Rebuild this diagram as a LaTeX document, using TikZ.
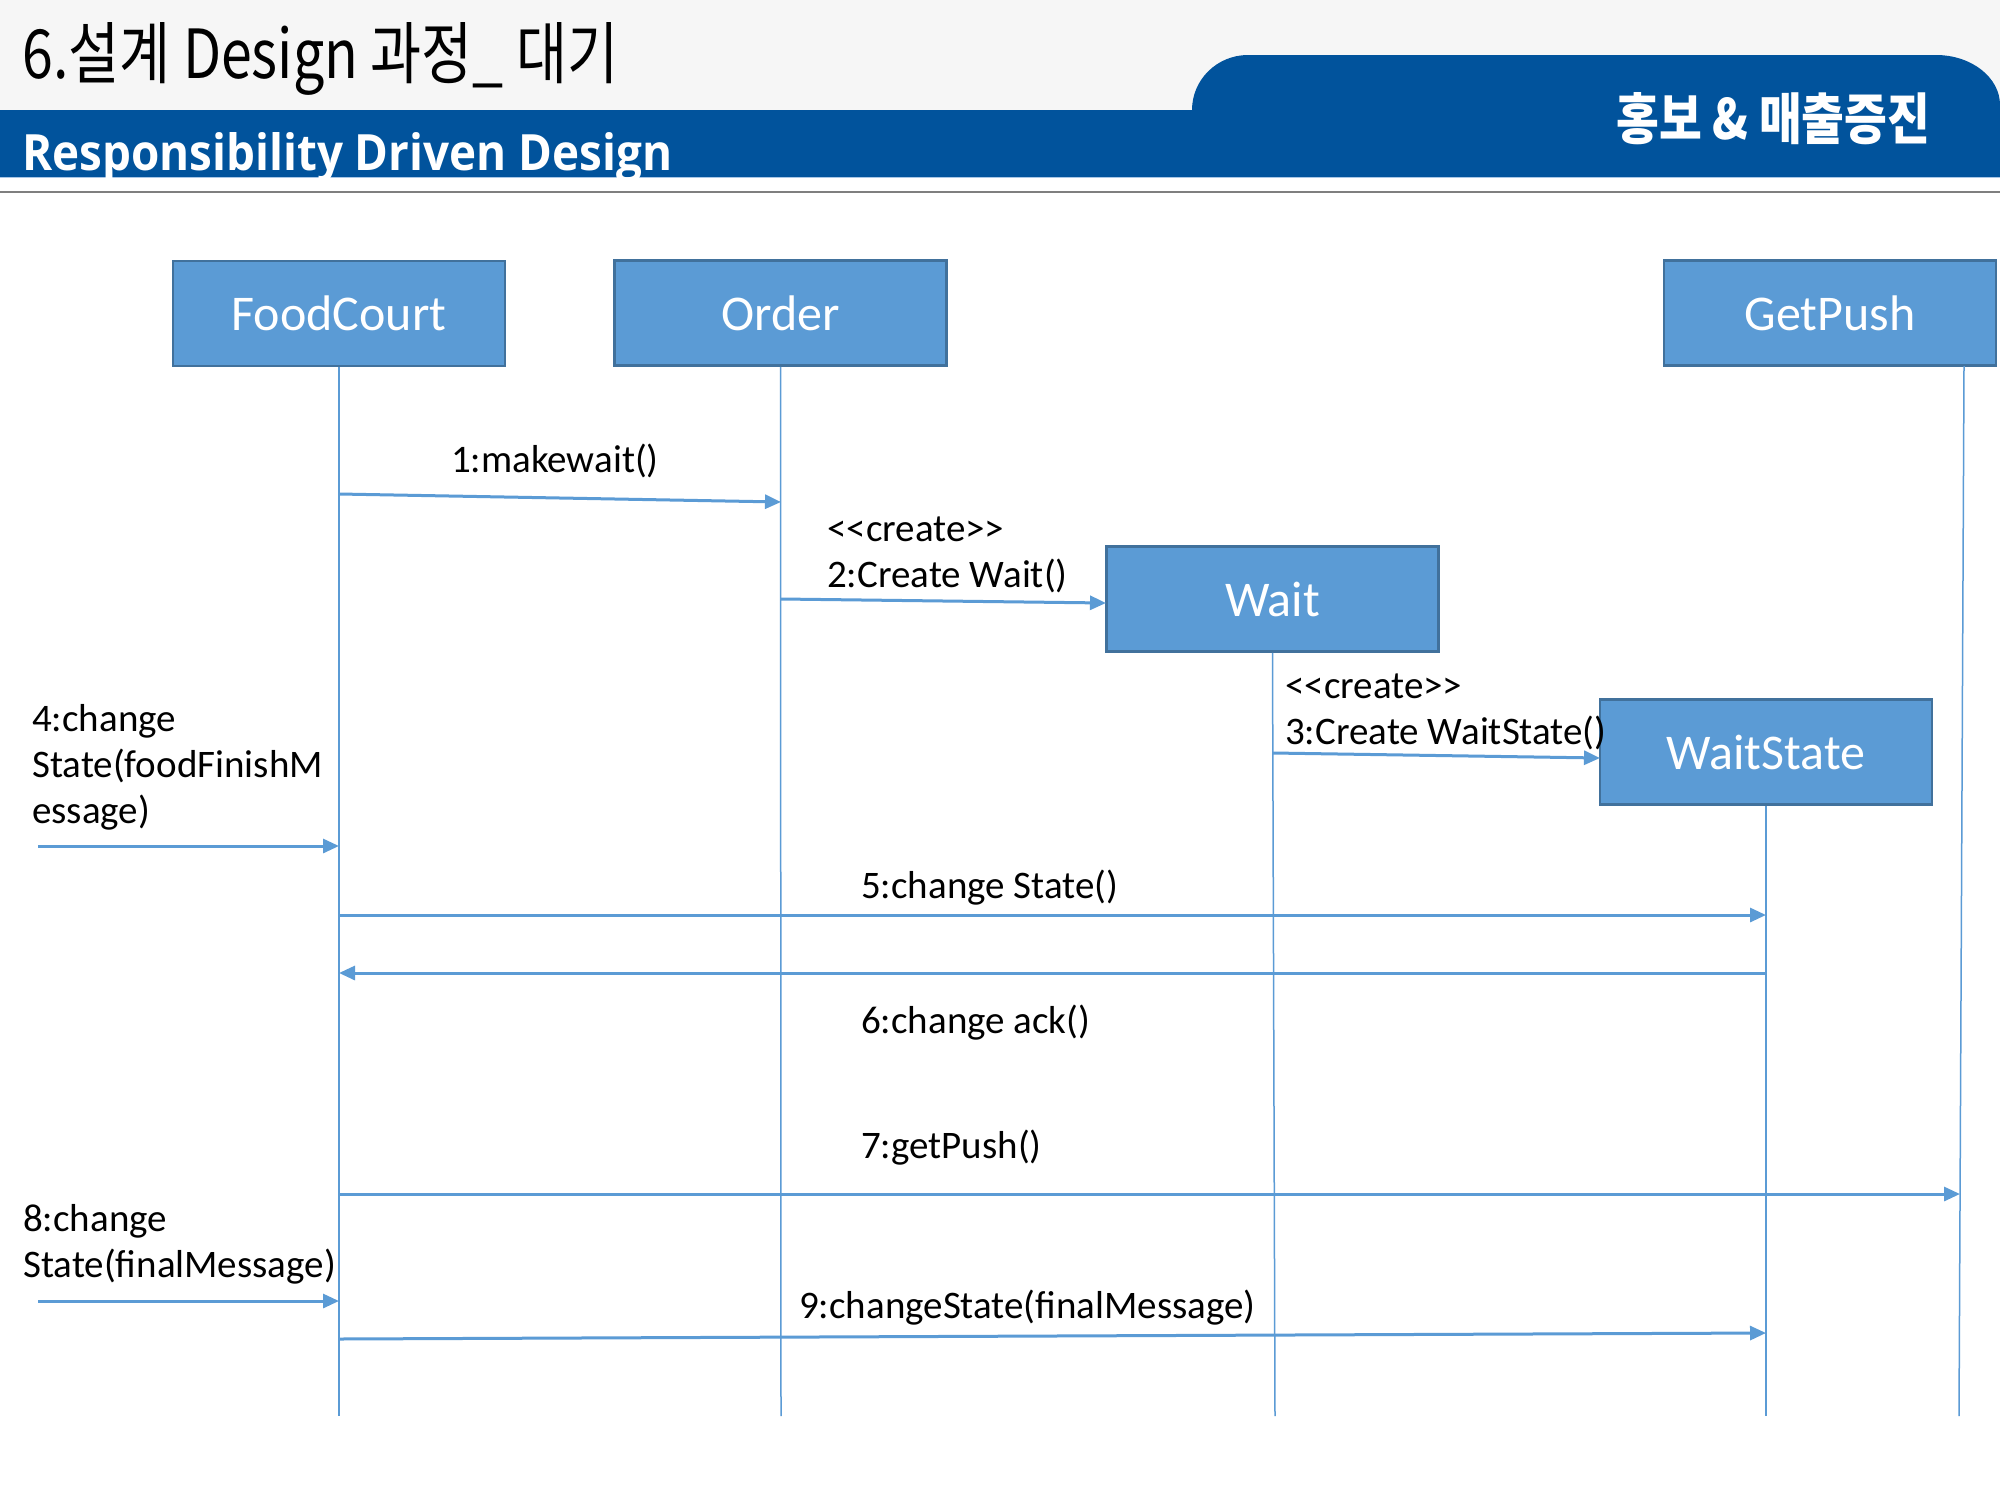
\documentclass[tikz,border=0pt]{standalone}
\usepackage{fontspec}
\setmainfont{Carlito}
\newfontfamily\krfont{Noto Sans CJK KR}
\newfontfamily\rdfont{Open Sans}
\usetikzlibrary{arrows.meta}
\definecolor{hdrgray}{HTML}{F6F6F6}
\definecolor{hdrblue}{HTML}{01539C}
\definecolor{boxfill}{HTML}{5B9BD5}
\definecolor{boxdraw}{HTML}{41719C}
\definecolor{lineblue}{HTML}{5B9BD5}
\definecolor{sepgray}{HTML}{7F7F7F}
\definecolor{edgeblue}{HTML}{A8C6E6}
\newcommand{\crt}{<\kern0pt<create>\kern0pt>}
\begin{document}
\begin{tikzpicture}[x=1pt,y=-1pt,
  obj/.style={draw=boxdraw, line width=2.5pt, fill=boxfill, text=white,
    minimum width=332pt, minimum height=105pt, inner sep=0pt,
    font=\fontsize{50}{60}\selectfont},
  life/.style={draw=lineblue, line width=1.5pt},
  msg/.style={draw=lineblue, line width=3pt, -{Triangle[length=16pt,width=14pt]}},
  lbl/.style={anchor=base west, inner sep=0pt, font=\fontsize{39}{46}\selectfont, text=black, align=left},
]
\useasboundingbox (0,0) rectangle (2000,1500);
\fill[white] (0,0) rectangle (2000,1500);
% header
\fill[hdrgray] (0,0) rectangle (2000,110);
\fill[hdrblue] (0,110) rectangle (2000,177);
\fill[hdrblue] (1192,177) -- (1192,110)
  arc[start angle=180,end angle=270,x radius=56,y radius=55]
  -- (1936,55)
  arc[start angle=270,end angle=360,x radius=64,y radius=50]
  -- (2000,177) -- cycle;
\draw[edgeblue, line width=1.5pt] (0,177.5) -- (2000,177.5);
\draw[sepgray, line width=2pt] (0,192) -- (2000,192);
\node (title) [anchor=base west, inner sep=0pt] at (22,78)
  {\resizebox{596pt}{56pt}{\krfont 6.설계 Design 과정\textunderscore{} 대기}};
\node (sub) [anchor=base west, inner sep=0pt, text=white] at (22,170)
  {\resizebox{650pt}{38pt}{\rdfont\bfseries Responsibility Driven Design}};
\node (tab) [anchor=base west, inner sep=0pt, text=white] at (1616,139)
  {\resizebox{314pt}{47pt}{\krfont\bfseries 홍보 \& 매출증진}};

% objects
\node[obj] (fc) at (339,313.5) {FoodCourt};
\node[obj] (ord) at (780.5,313) {Order};
\node[obj] (gp) at (1830,313) {GetPush};
\node[obj] (wt) at (1272.5,599) {Wait};
\node[obj] (ws) at (1766,752) {WaitState};

% lifeline ends
\coordinate (fcE) at (339,1416);
\coordinate (ordE) at (781,1416);
\coordinate (wtE) at (1275,1416);
\coordinate (wsE) at (1766,1416);
\coordinate (gpS) at (1964,366);
\coordinate (gpE) at (1959,1416);
\draw[life] (fc.south) -- (fcE);
\draw[life] (ord.south) -- (ordE);
\draw[life] (wt.south) -- (wtE);
\draw[life] (ws.south) -- (wsE);
\draw[life] (gpS) -- (gpE);

% message end points
\coordinate (m1a) at (339,494);  \coordinate (m1b) at (781,502);
\coordinate (m2a) at (781,599);  \coordinate (m2b) at (1106,603);
\coordinate (m3a) at (1273,753); \coordinate (m3b) at (1600,758);
\coordinate (m4a) at (38,846);   \coordinate (m4b) at (339,846);
\coordinate (m5a) at (339,915);  \coordinate (m5b) at (1766,915);
\coordinate (m6a) at (1766,973); \coordinate (m6b) at (339,973);
\coordinate (m7a) at (339,1194); \coordinate (m7b) at (1960,1194);
\coordinate (m8a) at (38,1301);  \coordinate (m8b) at (339,1301);
\coordinate (m9a) at (339,1339); \coordinate (m9b) at (1766,1333);

\draw[msg] (m1a) -- (m1b);
\draw[msg] (m2a) -- (m2b);
\draw[msg] (m3a) -- (m3b);
\draw[msg] (m4a) -- (m4b);
\draw[msg] (m5a) -- (m5b);
\draw[msg] (m6a) -- (m6b);
\draw[msg] (m7a) -- (m7b);
\draw[msg] (m8a) -- (m8b);
\draw[msg] (m9a) -- (m9b);

% labels
\node[lbl] (l1) at (451,472) {1:makewait()};
\node[lbl] (l2) at (827,587) {\crt\\2:Create Wait()};
\node[lbl] (l3) at (1285,744) {\crt\\3:Create WaitState()};
\node[lbl] (l4) at (32,823) {4:change\\State(foodFinishM\\essage)};
\node[lbl] (l5) at (861,898) {5:change State()};
\node[lbl] (l6) at (861,1033) {6:change ack()};
\node[lbl] (l7) at (861,1158) {7:getPush()};
\node[lbl] (l8) at (23,1277) {8:change\\State(finalMessage)};
\node[lbl] (l9) at (799,1318) {9:changeState(finalMessage)};
\end{tikzpicture}
\end{document}
